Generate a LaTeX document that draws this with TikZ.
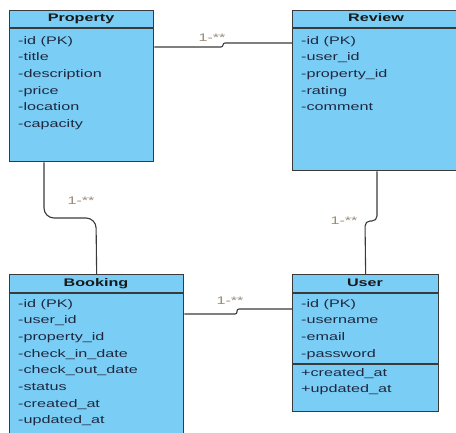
\documentclass[tikz,border=0pt]{standalone}
\usepackage{fontspec}
\setmainfont{Liberation Sans}
\usepackage{graphicx}
\definecolor{classfill}{HTML}{7ACEF5}
\definecolor{classline}{HTML}{3A3A3A}
\definecolor{fieldink}{HTML}{202840}
\definecolor{multink}{HTML}{9A8B7A}
\newcommand{\wide}[1]{\scalebox{1.47}[1]{#1}}
\tikzset{
  classbox/.style={rectangle, draw=classline, fill=classfill, line width=1.3pt, anchor=north west, inner sep=0pt},
  classrule/.style={draw=classline, line width=1.3pt},
  headtxt/.style={font=\fontsize{11}{13}\selectfont\bfseries, text=black!90, anchor=base, inner sep=0pt},
  fieldtxt/.style={font=\fontsize{11}{13}\selectfont, text=fieldink, anchor=base west, inner sep=0pt},
  multtxt/.style={font=\fontsize{11}{13}\selectfont, text=multink, inner sep=0pt},
  assoc/.style={draw=classline, line width=1.1pt}
}
\begin{document}
\begin{tikzpicture}[x=1pt, y=-1pt]
  \useasboundingbox (0,0) rectangle (456,432);
  % class boxes
  \node[classbox, minimum width=144pt, minimum height=151pt] (property) at (9,10) {};
  \node[classbox, minimum width=168pt, minimum height=160pt] (review) at (292,10) {};
  \node[classbox, minimum width=174pt, minimum height=170pt] (booking) at (9,274) {};
  \node[classbox, minimum width=146pt, minimum height=137pt] (user) at (292,274) {};
  \draw[classrule] ([yshift=-18pt]property.north west) -- ([yshift=-18pt]property.north east);
  \draw[classrule] ([yshift=-18pt]review.north west) -- ([yshift=-18pt]review.north east);
  \draw[classrule] ([yshift=-19pt]booking.north west) -- ([yshift=-19pt]booking.north east);
  \draw[classrule] ([yshift=-19pt]user.north west) -- ([yshift=-19pt]user.north east);
  \draw[classrule] ([yshift=-90pt]user.north west) -- ([yshift=-90pt]user.north east);
  % headers
  \node[headtxt] (propertyhead) at (81,21) {\wide{Property}};
  \node[headtxt] (reviewhead) at (376,21) {\wide{Review}};
  \node[headtxt] (bookinghead) at (96,286) {\wide{Booking}};
  \node[headtxt] (userhead) at (365,286) {\wide{User}};
  % fields
  \foreach \t [count=\i] in {-id (PK), -title, -description, -price, -location, -capacity}
    \node[fieldtxt] (propf\i) at (18,{44+16.7*(\i-1)}) {\wide{\t}};
  \foreach \t [count=\i] in {-id (PK), -user\_id, -property\_id, -rating, -comment}
    \node[fieldtxt] (revf\i) at (301,{44+16.7*(\i-1)}) {\wide{\t}};
  \foreach \t [count=\i] in {-id (PK), -user\_id, -property\_id, -check\_in\_date, -check\_out\_date, -status, -created\_at, -updated\_at}
    \node[fieldtxt] (bookf\i) at (18,{307+16.7*(\i-1)}) {\wide{\t}};
  \foreach \t [count=\i] in {-id (PK), -username, -email, -password}
    \node[fieldtxt] (userf\i) at (301,{307+16.7*(\i-1)}) {\wide{\t}};
  \foreach \t [count=\i] in {+created\_at, +updated\_at}
    \node[fieldtxt] (userm\i) at (301,{376+16.7*(\i-1)}) {\wide{\t}};
  % associations
  \draw[assoc, rounded corners=2pt] ([yshift=-37pt]property.north east) -- (223,47) -- (223,43) -- ([yshift=-33pt]review.north west);
  \draw[assoc, rounded corners=10pt] ([xshift=35pt]property.south west) -- (44,218) -- (96,218) -- (booking.north);
  \draw[assoc, rounded corners=5pt] ([xshift=85pt]review.south west) -- (377,221) -- (365,221) -- (user.north);
  \draw[assoc, rounded corners=2pt] ([yshift=-40pt]booking.north east) -- (237,314) -- (237,309) -- ([yshift=-35pt]user.north west);
  % multiplicities
  \node[multtxt] (prmult) at (212,38) {\wide{1-**}};
  \node[multtxt] (pbmult) at (81,201) {\wide{1-**}};
  \node[multtxt] (rumult) at (344,221) {\wide{1-**}};
  \node[multtxt] (bumult) at (230,301) {\wide{1-**}};
\end{tikzpicture}
\end{document}
